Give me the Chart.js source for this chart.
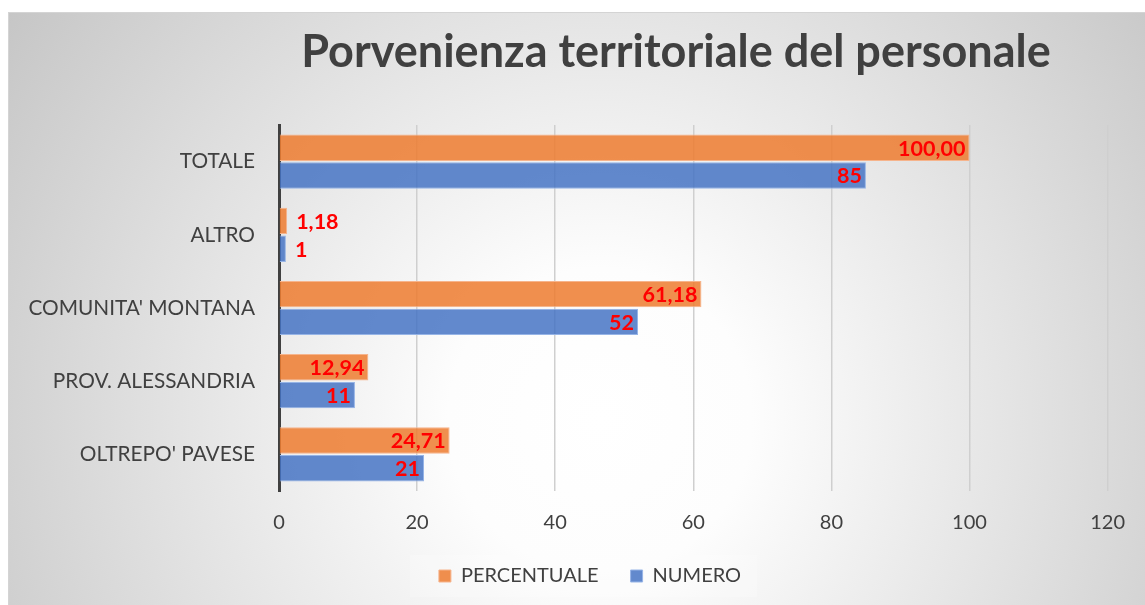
<!DOCTYPE html>
<html><head><meta charset="utf-8">
<script src="https://cdn.jsdelivr.net/npm/chart.js@4/dist/chart.umd.min.js"></script>
<style>html,body{margin:0;padding:0;background:#fff}#wrap{width:1145px;height:605px;position:relative}</style>
</head><body><div id="wrap"><canvas id="c" width="1145" height="605"></canvas></div>
<script>
const categories = ["TOTALE", "ALTRO", "COMUNITA' MONTANA", "PROV. ALESSANDRIA", "OLTREPO' PAVESE"];
const percentuale = [100.00, 1.18, 61.18, 12.94, 24.71];
const numero = [85, 1, 52, 11, 21];
const seriesNames = ["PERCENTUALE", "NUMERO"];
const xTickMin = 0, xTickMax = 120, xTickStep = 20;
const titleText = "Porvenienza territoriale del personale";

const percentLabels = percentuale.map(v => v.toFixed(2).replace('.', ','));
const numeroLabels = numero.map(v => String(v));
const FONT = 'Lato';

const bgPlugin = {
  id: 'bg',
  beforeDraw(chart) {
    const ctx = chart.ctx;
    ctx.save();
    ctx.fillStyle = '#ffffff';
    ctx.fillRect(0, 0, chart.width, chart.height);
    const g = ctx.createRadialGradient(600, 420, 0, 600, 420, 760);
    g.addColorStop(0, '#ffffff');
    g.addColorStop(0.2, '#fdfdfd');
    g.addColorStop(1, '#c2c2c2');
    ctx.fillStyle = g;
    ctx.fillRect(8, 12, chart.width - 8, chart.height - 12);
    ctx.strokeStyle = '#d4d4d4';
    ctx.lineWidth = 1;
    ctx.strokeRect(8.5, 12.5, chart.width - 8, chart.height - 12);
    // legend background
    ctx.fillStyle = 'rgba(255,255,255,0.22)';
    ctx.fillRect(410, 555, 347, 42);
    ctx.restore();
  },
  afterLayout(chart) {
    const t = chart.titleBlock;
    if (t) { t.left = 676 - 560; t.right = 676 + 560; }
    const l = chart.legend;
    if (l) { l.left += 30; l.right += 30; }
  }
};

const labelPlugin = {
  id: 'vlabels',
  afterDatasetsDraw(chart) {
    const ctx = chart.ctx;
    const all = [percentLabels, numeroLabels];
    ctx.save();
    ctx.font = 'bold 21.5px ' + FONT;
    ctx.fillStyle = '#ff0000';
    ctx.textBaseline = 'middle';
    chart.data.datasets.forEach((ds, di) => {
      const meta = chart.getDatasetMeta(di);
      meta.data.forEach((bar, i) => {
        const txt = all[di][i];
        const w = ctx.measureText(txt).width;
        const len = bar.x - bar.base;
        if (len > w + 10) {
          ctx.textAlign = 'right';
          ctx.fillText(txt, bar.x - 4, bar.y + 1);
        } else {
          ctx.textAlign = 'left';
          ctx.fillText(txt, bar.x + 9, bar.y + 1);
        }
      });
    });
    ctx.restore();
  }
};

new Chart(document.getElementById('c'), {
  type: 'bar',
  data: {
    labels: categories,
    datasets: [
      { label: seriesNames[0], data: percentuale,
        backgroundColor: 'rgba(237,125,49,0.86)', borderColor: 'rgba(246,180,140,1)', borderWidth: 1,
        categoryPercentage: 0.76, barPercentage: 0.95 },
      { label: seriesNames[1], data: numero,
        backgroundColor: 'rgba(68,114,196,0.84)', borderColor: 'rgba(150,180,230,1)', borderWidth: 1,
        categoryPercentage: 0.76, barPercentage: 0.95 }
    ]
  },
  options: {
    indexAxis: 'y',
    responsive: false,
    devicePixelRatio: 1,
    animation: false,
    layout: { padding: { left: 8, right: 33, top: 12, bottom: 9 } },
    scales: {
      x: {
        min: xTickMin, max: xTickMax,
        ticks: { stepSize: xTickStep, color: '#404040', font: { family: FONT, size: 20 }, padding: 20 },
        grid: { color: '#cfcfcf', lineWidth: 1.5, drawTicks: false },
        border: { display: false },
        afterFit(s) { s.height = 43; }
      },
      y: {
        ticks: { color: '#404040', font: { family: FONT, size: 20.8 }, padding: 24 },
        grid: { display: false, drawTicks: false },
        border: { display: true, color: '#404040', width: 3 },
        afterFit(s) { s.width = 271; }
      }
    },
    plugins: {
      title: { display: true, text: titleText, color: '#404040',
        font: { family: FONT, size: 45, weight: 'bold', lineHeight: 1.2 },
        padding: { top: 13, bottom: 46 } },
      legend: { position: 'bottom',
        labels: { color: '#404040', font: { family: FONT, size: 20 }, boxWidth: 12, boxHeight: 12, padding: 32 } },
      tooltip: { enabled: false }
    }
  },
  plugins: [bgPlugin, labelPlugin]
});
</script>
</body></html>
